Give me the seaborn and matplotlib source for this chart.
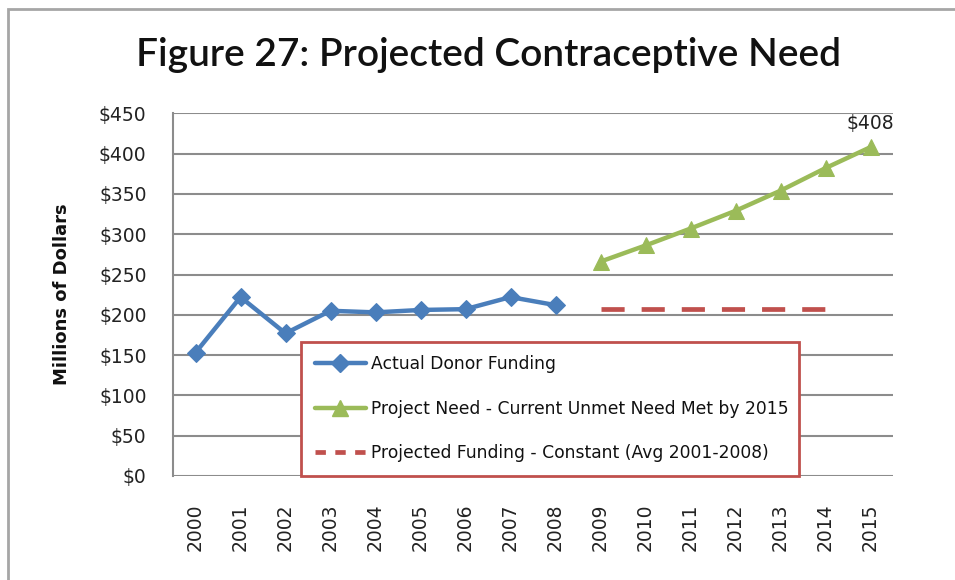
import matplotlib
matplotlib.use("Agg")
import matplotlib.pyplot as plt
from matplotlib.patches import Rectangle
from matplotlib.lines import Line2D
import seaborn as sns
import pandas as pd

years_actual = [2000, 2001, 2002, 2003, 2004, 2005, 2006, 2007, 2008]
actual = [153, 222, 177, 205, 203, 206, 207, 222, 212]
years_need = [2009, 2010, 2011, 2012, 2013, 2014, 2015]
need = [266, 286, 307, 329, 354, 382, 408]
years_proj = [2009, 2010, 2011, 2012, 2013, 2014]
proj = [207, 207, 207, 207, 207, 207]
all_years = list(range(2000, 2016))
y_ticks = [0, 50, 100, 150, 200, 250, 300, 350, 400, 450]

lab_a = "Actual Donor Funding"
lab_n = "Project Need - Current Unmet Need Met by 2015"
lab_p = "Projected Funding - Constant (Avg 2001-2008)"

blue = "#4A7EBB"
green = "#9BBB59"
red = "#C0504D"
grid_c = "#8C8C8C"

sns.set_theme(style="white")
plt.rcParams['font.family'] = ['DejaVu Sans']

fig = plt.figure(figsize=(9.55, 5.8), dpi=100)
ax = fig.add_axes([173/955, 1-476/580, (893-173)/955, (476-113.3)/580])

df_a = pd.DataFrame({"year": years_actual, "value": actual})
df_n = pd.DataFrame({"year": years_need, "value": need})
df_p = pd.DataFrame({"year": years_proj, "value": proj})

sns.lineplot(data=df_a, x="year", y="value", ax=ax, color=blue, lw=3.2,
             marker="D", markersize=9, markeredgecolor=blue, zorder=4)
sns.lineplot(data=df_n, x="year", y="value", ax=ax, color=green, lw=3.2,
             marker="^", markersize=12, markeredgecolor=green, zorder=4)
sns.lineplot(data=df_p, x="year", y="value", ax=ax, color=red, lw=3.4,
             dashes=False, zorder=4)
pl = ax.get_lines()[-1]
pl.set_dashes((4.9, 3.6))
pl.set_dash_capstyle("butt")

ax.set_xlim(1999.5, 2015.5)
ax.set_ylim(0, 450)
ax.set_xticks(all_years)
ax.set_xticklabels([str(y) for y in all_years], rotation=90, fontsize=13.5,
                   color="#222222")
ax.set_yticks(y_ticks)
ax.set_yticklabels([f"${v}" for v in y_ticks], fontsize=13.5, color="#222222")
ax.tick_params(axis="x", pad=20, length=0)
ax.tick_params(axis="y", pad=19, length=0)
ax.yaxis.grid(True, color=grid_c, lw=1.5)
ax.xaxis.grid(False)
for s in ["top", "right", "bottom"]:
    ax.spines[s].set_visible(False)
ax.spines["left"].set_color(grid_c)
ax.spines["left"].set_linewidth(1.5)
ax.set_xlabel("")
ax.set_ylabel("Millions of Dollars", fontsize=13, fontweight="bold",
              color="#111111", labelpad=20)

ax.annotate(f"${need[-1]}", xy=(years_need[-1], need[-1]), xytext=(0, 10),
            textcoords="offset points", ha="center", va="bottom",
            fontsize=13.5, color="#222222")

handles = [
    Line2D([], [], color=blue, lw=3.2, marker="D", markersize=9),
    Line2D([], [], color=green, lw=3.2, marker="^", markersize=12),
    Line2D([], [], color=red, lw=3.4, dashes=(2.2, 2.0), dash_capstyle="butt"),
]
leg = ax.legend(handles, [lab_a, lab_n, lab_p], loc="lower left",
                bbox_to_anchor=((301-173)/720, 0.0, (799-301)/720, (475-342)/362.7),
                mode="expand", fontsize=12.3, frameon=True, fancybox=False,
                edgecolor=red, framealpha=1.0, handlelength=3.0,
                handletextpad=0.3, labelspacing=1.55, borderpad=0.8,
                borderaxespad=0, labelcolor="#111111")
leg.get_frame().set_linewidth(2)
leg.get_frame().set_facecolor("white")
leg.set_zorder(6)

fig.text(488/955, 1-55/580, "Figure 27: Projected Contraceptive Need",
         ha="center", va="center", fontsize=28, fontfamily="Lato",
         fontweight="semibold", color="#111111")

fig.patches.append(Rectangle((8/955, -0.1), 1.2, 1-9/580+0.1,
                             transform=fig.transFigure, fill=False,
                             edgecolor="#A6A6A6", lw=2))

fig.savefig("out.png", dpi=100)
